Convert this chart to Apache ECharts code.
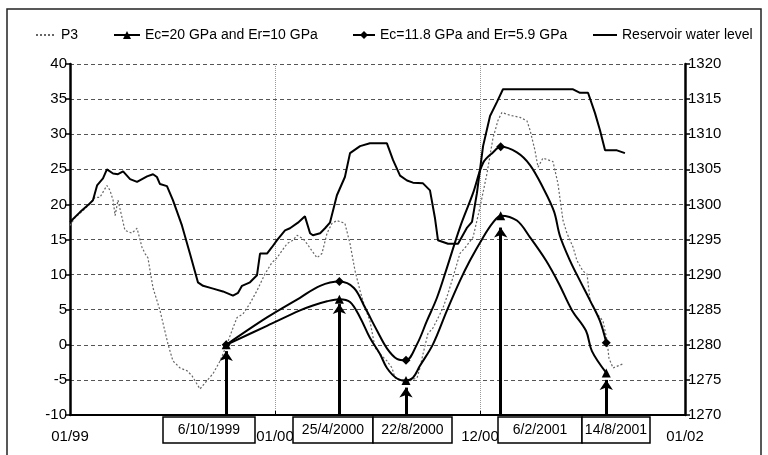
<!DOCTYPE html>
<html><head><meta charset="utf-8">
<script src="https://cdn.jsdelivr.net/npm/echarts@6/dist/echarts.min.js"></script>
<style>html,body{margin:0;padding:0;background:#fff}#c{width:768px;height:455px}</style>
</head><body><div id="c"></div>
<script>
// x values are years since 01/01/1999
const seriesNames = ['P3', 'Ec=20 GPa and Er=10 GPa', 'Ec=11.8 GPa and Er=5.9 GPa', 'Reservoir water level'];
const xTickLabels = ['01/99', '01/00', '12/00', '01/02'];
const leftTicks = [-10, 40, 5];
const rightTicks = [1270, 1320, 5];

const p3 = [[0.000,17.0],[0.024,18.1],[0.063,19.1],[0.098,20.1],[0.122,21.0],[0.146,21.0],[0.180,22.7],[0.195,22.0],[0.210,20.6],[0.220,18.4],[0.234,20.6],[0.254,18.1],[0.268,16.3],[0.302,15.9],[0.327,16.6],[0.351,13.9],[0.366,13.0],[0.380,12.4],[0.405,8.1],[0.439,4.9],[0.478,0.1],[0.502,-2.3],[0.537,-3.3],[0.571,-3.7],[0.595,-4.4],[0.634,-6.3],[0.668,-5.1],[0.698,-4.1],[0.732,-2.3],[0.766,0.1],[0.795,2.4],[0.815,3.9],[0.844,4.4],[0.878,5.9],[0.912,7.7],[0.951,10.1],[0.985,11.7],[1.010,12.4],[1.034,13.4],[1.059,14.4],[1.088,14.9],[1.107,15.6],[1.137,15.1],[1.156,14.4],[1.180,13.4],[1.205,12.4],[1.229,13.0],[1.254,15.9],[1.278,17.3],[1.302,17.7],[1.341,17.3],[1.366,14.4],[1.390,10.6],[1.415,7.7],[1.439,5.3],[1.463,3.4],[1.488,-0.4],[1.512,-1.3],[1.546,-2.3],[1.571,-3.3],[1.585,-4.7],[1.610,-5.1],[1.659,-5.1],[1.693,-4.7],[1.707,-3.3],[1.722,-1.3],[1.746,1.6],[1.771,2.4],[1.805,4.4],[1.820,5.3],[1.844,7.3],[1.868,9.6],[1.888,11.6],[1.902,13.0],[1.932,14.0],[1.966,15.3],[2.000,19.6],[2.034,24.4],[2.063,29.4],[2.088,32.0],[2.107,33.1],[2.146,32.7],[2.195,32.4],[2.229,31.9],[2.244,30.6],[2.268,27.7],[2.283,25.3],[2.307,26.6],[2.356,26.1],[2.380,23.0],[2.405,17.7],[2.424,15.9],[2.454,13.9],[2.473,12.0],[2.502,10.5],[2.522,10.1],[2.537,6.3],[2.571,4.4],[2.600,3.4],[2.620,0.6],[2.629,-1.9],[2.649,-3.3],[2.698,-2.7]];

const ec20 = [[0.762,0],[0.961,2.7],[1.122,4.9],[1.185,5.6],[1.254,6.2],[1.314,6.5],[1.366,6.1],[1.415,3.9],[1.463,1.0],[1.512,-1.3],[1.546,-3.3],[1.595,-4.8],[1.639,-5.1],[1.673,-4.7],[1.707,-3.0],[1.771,0.1],[1.839,4.9],[1.902,9.1],[1.951,12.0],[2.015,15.3],[2.063,17.4],[2.101,18.4],[2.180,17.7],[2.244,15.3],[2.322,12.0],[2.385,8.7],[2.449,4.9],[2.517,2.0],[2.546,-0.9],[2.616,-4.0]];

const ec118 = [[0.762,0],[0.961,3.9],[1.122,6.7],[1.220,8.4],[1.314,9.0],[1.385,8.1],[1.439,5.3],[1.498,2.0],[1.546,-0.5],[1.595,-2.0],[1.639,-2.2],[1.693,0.1],[1.741,3.4],[1.790,6.7],[1.839,11.0],[1.902,16.7],[1.966,21.6],[2.015,25.9],[2.063,27.4],[2.101,28.2],[2.180,27.4],[2.244,25.6],[2.307,22.4],[2.361,19.0],[2.390,15.5],[2.439,12.0],[2.488,9.1],[2.537,6.3],[2.585,3.4],[2.616,0.3]];

const reservoir = [[0.000,1297.5],[0.049,1298.9],[0.088,1299.9],[0.112,1300.6],[0.132,1302.7],[0.161,1303.7],[0.180,1305.0],[0.210,1304.4],[0.234,1304.3],[0.259,1304.7],[0.293,1303.6],[0.327,1303.2],[0.376,1304.0],[0.405,1304.3],[0.424,1303.9],[0.439,1302.9],[0.473,1302.6],[0.502,1300.6],[0.546,1297.0],[0.585,1293.0],[0.624,1288.9],[0.649,1288.4],[0.698,1288.0],[0.746,1287.6],[0.795,1287.0],[0.820,1287.4],[0.839,1288.4],[0.878,1288.9],[0.912,1289.9],[0.927,1293.0],[0.961,1293.0],[0.985,1293.9],[1.010,1294.9],[1.049,1296.3],[1.073,1296.6],[1.112,1297.4],[1.146,1298.3],[1.171,1295.9],[1.185,1295.6],[1.220,1295.9],[1.244,1296.6],[1.268,1297.4],[1.302,1301.3],[1.341,1303.9],[1.366,1307.3],[1.415,1308.3],[1.463,1308.7],[1.546,1308.7],[1.576,1306.3],[1.610,1304.1],[1.644,1303.4],[1.673,1303.1],[1.722,1303.0],[1.756,1302.0],[1.780,1298.1],[1.795,1294.9],[1.844,1294.4],[1.893,1294.4],[1.937,1296.7],[1.961,1297.5],[1.985,1301.6],[2.015,1308.3],[2.049,1312.6],[2.083,1314.6],[2.112,1316.4],[2.454,1316.4],[2.488,1315.9],[2.527,1315.9],[2.561,1313.0],[2.585,1310.6],[2.610,1307.7],[2.668,1307.7],[2.707,1307.3]];

// annotated dates (6/10/1999, 25/4/2000, 22/8/2000, 6/2/2001, 14/8/2001)
const markerDates = [0.762, 1.314, 1.639, 2.101, 2.616];
const boxLabels = ['6/10/1999', '25/4/2000', '22/8/2000', '6/2/2001', '14/8/2001'];
const arrowTips = [-0.9, 5.8, -6.1, 16.7, -5.0];

const FONT = '"Liberation Sans", Arial, sans-serif';
const chart = echarts.init(document.getElementById('c'), null, {renderer: 'canvas'});

function withMarkers(data) {
  return data.map(p => markerDates.indexOf(p[0]) >= 0 ? {value: p} : {value: p, symbol: 'none'});
}

const legendCommon = {
  top: 28, itemHeight: 10, itemGap: 0, padding: 0, selectedMode: false,
  textStyle: {fontFamily: FONT, fontSize: 14, color: '#000'}
};
const noSymbol = {color: 'rgba(0,0,0,0)', borderWidth: 0, borderColor: 'rgba(0,0,0,0)'};

const option = {
  animation: false,
  backgroundColor: '#fff',
  grid: {left: 70, right: 83, top: 64, bottom: 40},
  legend: [
    Object.assign({data: [{name: seriesNames[0], itemStyle: noSymbol}], left: 35, itemWidth: 20}, legendCommon),
    Object.assign({data: [seriesNames[1]], left: 113, itemWidth: 26}, legendCommon),
    Object.assign({data: [seriesNames[2]], left: 352, itemWidth: 22}, legendCommon),
    Object.assign({data: [{name: seriesNames[3], itemStyle: noSymbol}], left: 592, itemWidth: 24}, legendCommon)
  ],
  xAxis: {
    type: 'value', min: 0, max: 3, interval: 1,
    axisLine: {onZero: false, lineStyle: {color: '#000', width: 2}},
    axisTick: {show: true, length: 4, inside: true, lineStyle: {color: '#000'}},
    axisLabel: {fontFamily: FONT, fontSize: 15, color: '#000', margin: 14,
      formatter: v => xTickLabels[Math.round(v)]},
    splitLine: {show: true, lineStyle: {color: '#999', type: 'dotted', width: 1}}
  },
  yAxis: [
    {
      type: 'value', min: leftTicks[0], max: leftTicks[1], interval: leftTicks[2], position: 'left',
      axisLine: {show: true, lineStyle: {color: '#000', width: 2.5}},
      axisTick: {show: true, length: 5, lineStyle: {color: '#000', width: 1.5}},
      axisLabel: {fontFamily: FONT, fontSize: 15, color: '#000', margin: 3},
      splitLine: {show: true, lineStyle: {color: '#555', type: [4, 3], width: 1}}
    },
    {
      type: 'value', min: rightTicks[0], max: rightTicks[1], interval: rightTicks[2], position: 'right',
      axisLine: {show: true, lineStyle: {color: '#000', width: 2.5}},
      axisTick: {show: true, length: 5, lineStyle: {color: '#000', width: 1.5}},
      axisLabel: {fontFamily: FONT, fontSize: 15, color: '#000', margin: 3, formatter: v => String(v)},
      splitLine: {show: false}
    }
  ],
  series: [
    {
      name: seriesNames[0], type: 'line', data: p3, symbol: 'none', z: 2,
      lineStyle: {color: '#666', width: 1.2, type: [2, 2]}, itemStyle: {color: '#666'}
    },
    {
      name: seriesNames[1], type: 'line', data: withMarkers(ec20), smooth: 0.35,
      symbol: 'triangle', symbolSize: 9, showAllSymbol: true, z: 4,
      lineStyle: {color: '#000', width: 2}, itemStyle: {color: '#000'}
    },
    {
      name: seriesNames[2], type: 'line', data: withMarkers(ec118), smooth: 0.35,
      symbol: 'diamond', symbolSize: 9, showAllSymbol: true, z: 4,
      lineStyle: {color: '#000', width: 2}, itemStyle: {color: '#000'}
    },
    {
      name: seriesNames[3], type: 'line', yAxisIndex: 1, data: reservoir, symbol: 'none', z: 3,
      lineStyle: {color: '#000', width: 2}, itemStyle: {color: '#000'}
    },
    {
      type: 'lines', coordinateSystem: 'cartesian2d', xAxisIndex: 0, yAxisIndex: 0,
      polyline: false, silent: true, z: 6, clip: false,
      symbol: ['none', 'arrow'], symbolSize: 10,
      lineStyle: {color: '#000', width: 3, opacity: 1, curveness: 0},
      data: markerDates.map((d, i) => ({coords: [[d, leftTicks[0]], [d, arrowTips[i]]]}))
    }
  ]
};
chart.setOption(option);

// annotation boxes under the axis
const boxRects = [[163, 255], [293, 373], [373, 452], [498, 582], [582, 650]];
const graphics = [{
  type: 'rect', shape: {x: 7, y: 9, width: 754, height: 470}, silent: true, z: 0,
  style: {fill: 'transparent', stroke: '#222', lineWidth: 1.5}
}];
boxRects.forEach((b, i) => {
  graphics.push({
    type: 'rect', shape: {x: b[0], y: 417, width: b[1] - b[0], height: 26}, z: 10,
    style: {fill: '#fff', stroke: '#000', lineWidth: 1.5}
  });
  graphics.push({
    type: 'text', x: (b[0] + b[1]) / 2, y: 430, z: 11,
    style: {text: boxLabels[i], font: '14px ' + FONT, fill: '#000', align: 'center', verticalAlign: 'middle'}
  });
});
chart.setOption({graphic: graphics});
</script></body></html>
